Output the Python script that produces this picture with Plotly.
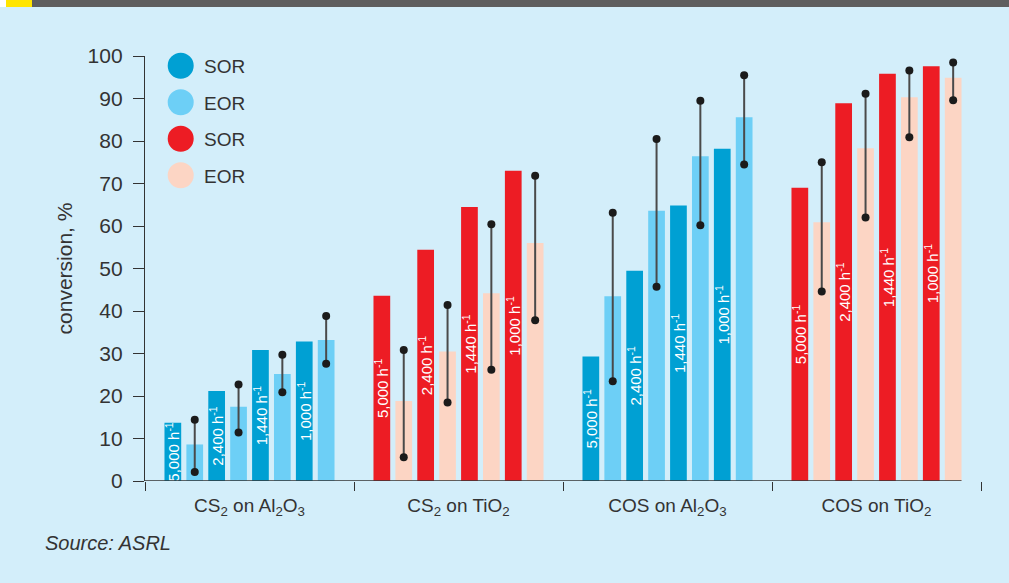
import plotly.graph_objects as go

# ---- data -------------------------------------------------------------
catalysts = [
    "CS<sub>2</sub> on Al<sub>2</sub>O<sub>3</sub>",
    "CS<sub>2</sub> on TiO<sub>2</sub>",
    "COS on Al<sub>2</sub>O<sub>3</sub>",
    "COS on TiO<sub>2</sub>",
]
space_velocities = ["5,000", "2,400", "1,440", "1,000"]

# start-of-run conversion, % (one row per catalyst, one column per space velocity)
sor = [
    [13.7, 21.2, 30.8, 32.8],
    [43.6, 54.4, 64.5, 73.0],
    [29.3, 49.5, 64.8, 78.2],
    [69.0, 88.9, 95.8, 97.6],
]
# end-of-run conversion, %
eor = [
    [8.6, 17.5, 25.2, 33.2],
    [18.8, 30.5, 44.2, 56.0],
    [43.5, 63.6, 76.4, 85.6],
    [60.9, 78.3, 90.3, 94.9],
]
# end-of-run spread (min / max)
eor_low = [
    [2.1, 11.4, 20.9, 27.6],
    [5.6, 18.5, 26.2, 37.8],
    [23.5, 45.7, 60.2, 74.5],
    [44.6, 62.0, 80.9, 89.6],
]
eor_high = [
    [14.4, 22.7, 29.7, 38.8],
    [30.8, 41.4, 60.4, 71.8],
    [63.1, 80.5, 89.5, 95.5],
    [75.0, 91.1, 96.6, 98.5],
]
y_ticks = [0, 10, 20, 30, 40, 50, 60, 70, 80, 90, 100]

# ---- styling ----------------------------------------------------------
BG = "#D3EEFA"
INK = "#333333"
BLUE_SOR, BLUE_EOR = "#00A0D3", "#6DCFF6"
RED_SOR, RED_EOR = "#ED1C24", "#FCD5C4"
sor_colors = [BLUE_SOR, RED_SOR, BLUE_SOR, RED_SOR]
eor_colors = [BLUE_EOR, RED_EOR, BLUE_EOR, RED_EOR]

NARROW = "Liberation Sans Narrow, Arial Narrow, Liberation Sans, Arial, sans-serif"
REGULAR = "Liberation Sans, Arial, sans-serif"

W, H = 1009, 583
ML, MR, MT, MB = 145, 28, 56, 102
PW, PH = W - ML - MR, H - MT - MB

def px_x(p):
    return (p - ML) / PW

def px_y(p):
    return 1 - (p - MT) / PH

PITCH = 0.1048   # spacing between neighbouring bars (group width = 1)
BAR_W = 0.08

def slot_x(slot):
    return [g + (slot - 3.5) * PITCH for g in range(len(catalysts))]

fig = go.Figure()

n_sv = len(space_velocities)
for i, sv in enumerate(space_velocities):
    s_slot, e_slot = 2 * i, 2 * i + 1
    fig.add_trace(go.Bar(
        x=slot_x(s_slot), y=[row[i] for row in sor], width=BAR_W,
        marker=dict(color=sor_colors, line=dict(width=0)),
        text=[f"{sv} h<sup>-1</sup>"] * len(catalysts),
        textposition="inside", insidetextanchor="middle", textangle=-90,
        constraintext="none",
        insidetextfont=dict(family=REGULAR, size=15, color="white"),
        showlegend=False, hoverinfo="skip",
    ))
    fig.add_trace(go.Bar(
        x=slot_x(e_slot), y=[row[i] for row in eor], width=BAR_W,
        marker=dict(color=eor_colors, line=dict(width=0)),
        textposition="none",
        showlegend=False, hoverinfo="skip",
    ))

# spread whiskers on the end-of-run bars
wx, wy = [], []
for i in range(n_sv):
    xs = slot_x(2 * i + 1)
    for g in range(len(catalysts)):
        wx += [xs[g], xs[g], None]
        wy += [eor_low[g][i], eor_high[g][i], None]
fig.add_trace(go.Scatter(
    x=wx, y=wy, mode="lines+markers",
    line=dict(color="#4a4a4a", width=2),
    marker=dict(color="#1b1b1b", size=8),
    showlegend=False, hoverinfo="skip", cliponaxis=False,
))

# x-axis baseline ends at the right edge of the last bar
last_edge = slot_x(7)[-1] + BAR_W / 2
shapes = [
    dict(type="line", xref="x", yref="y", x0=-0.5, x1=last_edge, y0=0, y1=0,
         line=dict(color=INK, width=1.5), layer="above"),
    # header strip
    dict(type="rect", xref="paper", yref="paper", x0=px_x(0), x1=px_x(W),
         y0=px_y(7), y1=px_y(0), fillcolor="#5E5E5E", line=dict(width=0)),
    dict(type="rect", xref="paper", yref="paper", x0=px_x(6), x1=px_x(32),
         y0=px_y(7), y1=px_y(0), fillcolor="#FFE500", line=dict(width=0)),
    dict(type="rect", xref="paper", yref="paper", x0=px_x(0), x1=px_x(6),
         y0=px_y(7), y1=px_y(0), fillcolor="white", line=dict(width=0)),
]

# legend: coloured discs with labels
legend_items = [("SOR", BLUE_SOR), ("EOR", BLUE_EOR), ("SOR", RED_SOR), ("EOR", RED_EOR)]
annotations = []
for k, (label, col) in enumerate(legend_items):
    cy = 65.7 + k * 36.5
    shapes.append(dict(type="circle", xref="paper", yref="paper",
                       xsizemode="pixel", ysizemode="pixel",
                       xanchor=px_x(180.7), yanchor=px_y(cy),
                       x0=-13, x1=13, y0=-13, y1=13,
                       fillcolor=col, line=dict(width=0)))
    annotations.append(dict(text=label, xref="paper", yref="paper",
                            x=px_x(202), y=px_y(cy + 1), xanchor="left", yanchor="middle",
                            showarrow=False,
                            font=dict(family=NARROW, size=19, color=INK)))

annotations.append(dict(text="<i>Source: ASRL</i>", xref="paper", yref="paper",
                        x=px_x(43), y=px_y(543), xanchor="left", yanchor="middle",
                        showarrow=False, font=dict(family=NARROW, size=20, color=INK)))

fig.update_layout(
    width=W, height=H,
    margin=dict(l=ML, r=MR, t=MT, b=MB),
    paper_bgcolor=BG, plot_bgcolor=BG,
    barmode="overlay",
    shapes=shapes, annotations=annotations,
    xaxis=dict(
        range=[-0.5, 3.5], showgrid=False, zeroline=False, showline=False,
        tickmode="array", tickvals=list(range(len(catalysts))), ticktext=catalysts,
        ticks="", ticklabelstandoff=11,
        tickfont=dict(family=NARROW, size=19, color=INK),
        minor=dict(tickmode="array", tickvals=[g - 0.5 for g in range(len(catalysts) + 1)],
                   ticks="outside", ticklen=9, tickcolor=INK, tickwidth=1.2,
                   showgrid=False),
    ),
    yaxis=dict(
        range=[0, 100], showgrid=False, zeroline=False,
        showline=True, linecolor=INK, linewidth=1.3,
        tickmode="array", tickvals=y_ticks,
        ticks="outside", ticklen=11, tickcolor=INK, tickwidth=1.2,
        ticklabelstandoff=6,
        tickfont=dict(family=REGULAR, size=21, color=INK),
        title=dict(text="conversion, %", standoff=9,
                   font=dict(family=NARROW, size=21, color=INK)),
    ),
)

fig.write_html("out.html")
